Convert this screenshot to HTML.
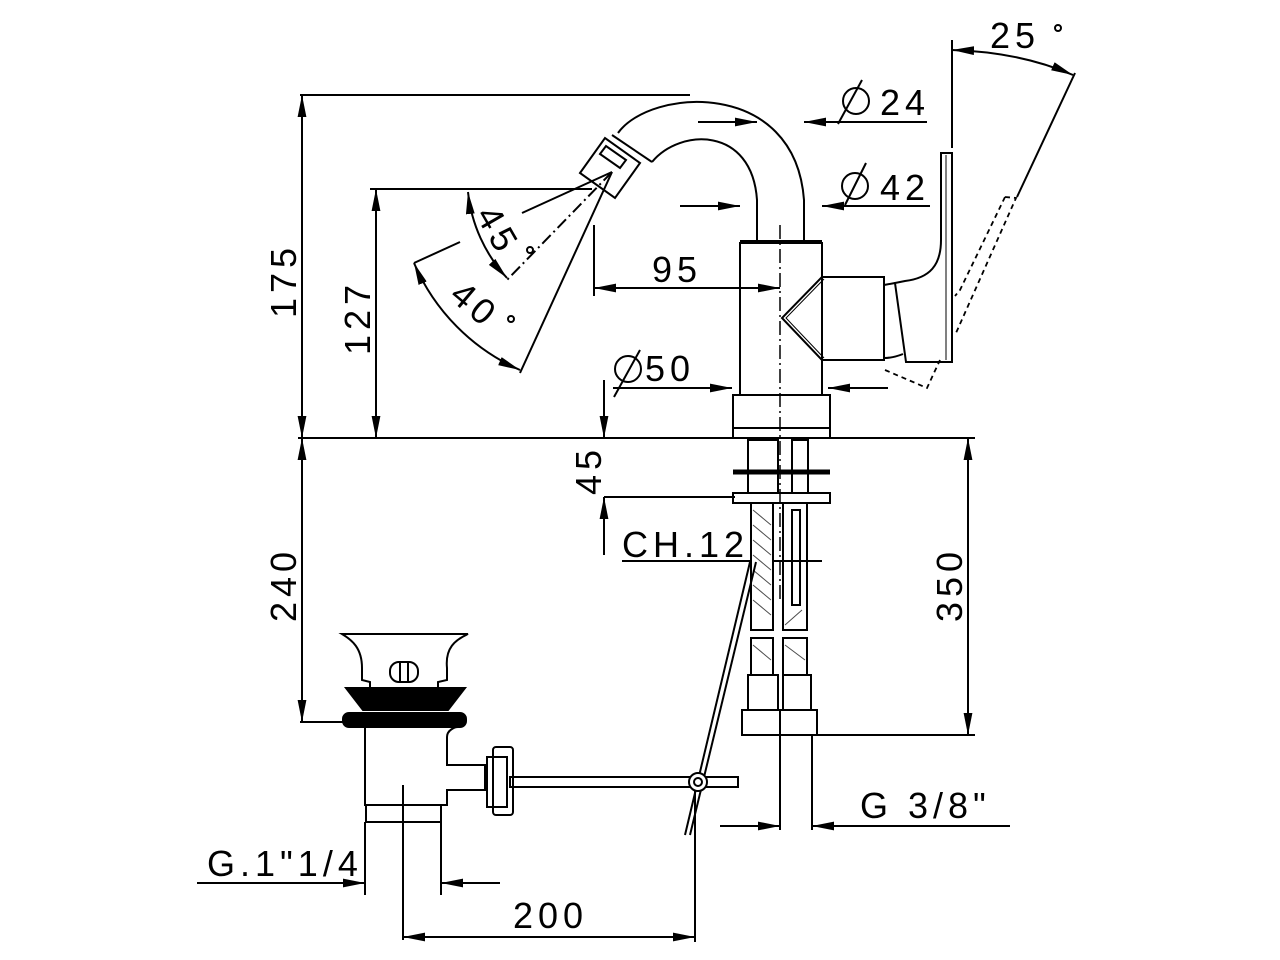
<!DOCTYPE html>
<html><head><meta charset="utf-8"><style>
html,body{margin:0;padding:0;background:#fff;}
svg{display:block;}
text{font-family:"Liberation Sans",sans-serif;font-size:36px;letter-spacing:5px;fill:#000;}
</style></head><body>
<svg width="1280" height="960" viewBox="0 0 1280 960" xmlns="http://www.w3.org/2000/svg">
<defs>
<marker id="a" viewBox="0 0 20 8" refX="20" refY="4" markerWidth="22" markerHeight="9" markerUnits="userSpaceOnUse" orient="auto-start-reverse"><path d="M0,0 L20,4 L0,8z" fill="#000"/></marker>
</defs>
<g stroke="#000" stroke-width="2" fill="none">
<line x1="300" y1="95" x2="690" y2="95"/>
<line x1="298" y1="438" x2="975" y2="438"/>
<line x1="370" y1="189" x2="592" y2="189"/>
<line x1="302" y1="95" x2="302" y2="438" marker-start="url(#a)" marker-end="url(#a)"/>
<line x1="376" y1="189" x2="376" y2="438" marker-start="url(#a)" marker-end="url(#a)"/>
<line x1="302" y1="438" x2="302" y2="722" marker-start="url(#a)" marker-end="url(#a)"/>
<line x1="300" y1="722" x2="345" y2="722"/>
<line x1="968" y1="438" x2="968" y2="735" marker-start="url(#a)" marker-end="url(#a)"/>
<line x1="815" y1="735" x2="975" y2="735"/>
<line x1="604" y1="380" x2="604" y2="438" marker-end="url(#a)"/>
<line x1="604" y1="555" x2="604" y2="497" marker-end="url(#a)"/>
<line x1="604" y1="497" x2="735" y2="497"/>
<line x1="622" y1="561" x2="822" y2="561"/>
<line x1="613" y1="388" x2="732" y2="388" marker-end="url(#a)"/>
<line x1="888" y1="388" x2="828" y2="388" marker-end="url(#a)"/>
<line x1="614" y1="397" x2="640" y2="350"/>
<line x1="680" y1="206" x2="740" y2="206" marker-end="url(#a)"/>
<line x1="930" y1="206" x2="822" y2="206" marker-end="url(#a)"/>
<line x1="845" y1="205" x2="866" y2="163"/>
<line x1="698" y1="122" x2="757" y2="122" marker-end="url(#a)"/>
<line x1="927" y1="122" x2="804" y2="122" marker-end="url(#a)"/>
<line x1="838" y1="124" x2="862" y2="80"/>
<line x1="594" y1="225" x2="594" y2="296"/>
<line x1="594" y1="288" x2="780" y2="288" marker-start="url(#a)" marker-end="url(#a)"/>
<path d="M618,133 C650,88 795,78 804,200 L804,242"/>
<path d="M652,162 C680,128 752,126 757,200 L757,242"/>
<polygon points="580,173 605,138 640,163 615,198"/>
<polygon points="600,154 606,146 626,160 620,168"/>
<line x1="612" y1="135" x2="652" y2="162"/>
<line x1="612" y1="172" x2="520" y2="373"/>
<line x1="612" y1="172" x2="522" y2="213"/>
<line x1="612" y1="172" x2="505" y2="282" stroke-dasharray="12,4,2,4"/>
<line x1="414" y1="263" x2="460" y2="242"/>
<path d="M468,192 A150,150 0 0 0 507,278" marker-start="url(#a)" marker-end="url(#a)"/>
<path d="M414,263 A205,205 0 0 0 520,370" marker-start="url(#a)" marker-end="url(#a)"/>
<circle cx="530" cy="250" r="3"/>
<circle cx="511" cy="319" r="3"/>
<line x1="740" y1="242" x2="822" y2="242" stroke-width="4"/>
<polyline points="740,242 740,395"/>
<polyline points="822,242 822,277 782,318 822,360 822,395"/>
<polyline points="824,279 786,318 824,358" stroke-width="1"/>
<rect x="822" y="277" width="62" height="83"/>
<path d="M884,285 L895,283 M884,358 C892,358 898,356 903,354"/>
<path d="M895,283 L905,281 C930,278 941,265 941,240 L941,153 L952,153 L952,362 L906,362 Z"/>
<line x1="946" y1="155" x2="946" y2="360" stroke-width="1"/>
<rect x="733" y="395" width="97" height="43"/>
<line x1="733" y1="428" x2="830" y2="428"/>
<line x1="780" y1="225" x2="780" y2="600" stroke-dasharray="14,4,2,4" stroke-width="1.5"/>
<line x1="952" y1="40" x2="952" y2="148"/>
<line x1="1075" y1="73" x2="1017" y2="197"/>
<path d="M952,50 Q1020,52 1073,75" marker-start="url(#a)" marker-end="url(#a)"/>
<g stroke-dasharray="5,4" stroke-width="1.8">
<polyline points="1005,197 1016,198 956,333"/>
<polyline points="1005,197 960,290 955,296"/>
<polyline points="885,370 927,388 940,360"/>
</g>
<rect x="748" y="440" width="30" height="53"/>
<rect x="792" y="440" width="16" height="53"/>
<line x1="733" y1="472" x2="830" y2="472" stroke-width="5"/>
<rect x="733" y="493" width="97" height="10"/>
<rect x="751" y="503" width="22" height="127" fill="#fff"/>
<rect x="783" y="503" width="24" height="127"/>
<rect x="792" y="510" width="8" height="95"/>
<rect x="751" y="638" width="22" height="37"/>
<rect x="783" y="638" width="24" height="37"/>
<rect x="748" y="675" width="30" height="35"/>
<rect x="783" y="675" width="28" height="35"/>
<rect x="742" y="710" width="38" height="25"/>
<rect x="780" y="710" width="37" height="25"/>
<line x1="780" y1="735" x2="780" y2="830"/>
<line x1="812" y1="735" x2="812" y2="830"/>
<line x1="720" y1="826" x2="780" y2="826" marker-end="url(#a)"/>
<line x1="1010" y1="826" x2="812" y2="826" marker-end="url(#a)"/>
<line x1="750" y1="562" x2="685" y2="835"/>
<line x1="756" y1="562" x2="690" y2="835"/>
<rect x="510" y="777" width="228" height="10" fill="#fff"/>
<circle cx="698" cy="782" r="9" fill="#fff"/>
<circle cx="698" cy="782" r="4"/>
<path d="M342,634 L468,634 C455,640 445,648 447,668 L447,680 L438,682 L438,688 L370,688 L370,682 L362,680 L362,668 C362,648 352,640 342,634z"/>
<rect x="390" y="662" width="28" height="20" rx="9"/>
<line x1="400" y1="662" x2="400" y2="682"/><line x1="408" y1="662" x2="408" y2="682"/>
<polygon points="346,688 465,688 448,710 363,710" fill="#000"/>
<rect x="343" y="713" width="123" height="14" rx="6" fill="#000"/>
<path d="M365,727 L365,805 L447,805 L447,790 L485,790 L485,765 L447,765 L447,737 C447,730 455,727 458,727"/>
<rect x="366" y="805" width="75" height="17"/>
<rect x="487" y="757" width="20" height="50"/>
<rect x="493" y="747" width="20" height="68" rx="3"/>
<line x1="403" y1="785" x2="403" y2="940"/>
<line x1="441" y1="822" x2="441" y2="895"/>
<line x1="365" y1="822" x2="365" y2="895"/>
<line x1="197" y1="883" x2="365" y2="883" marker-end="url(#a)"/>
<line x1="500" y1="883" x2="441" y2="883" marker-end="url(#a)"/>
<line x1="695" y1="790" x2="695" y2="942"/>
<line x1="403" y1="937" x2="695" y2="937" marker-start="url(#a)" marker-end="url(#a)"/>
</g>
<g stroke="#000" stroke-width="1" opacity="0.7">
<path d="M753,510 L771,525 M753,525 L771,540 M753,540 L771,555 M753,555 L771,570 M753,570 L771,585 M753,585 L771,600 M753,600 L771,615 M753,645 L771,660 M785,645 L805,660 M802,610 L785,625"/>
</g>
<g fill="#000">
<text x="880" y="115">24</text>
<text x="880" y="200">42</text>
<text x="652" y="282">95</text>
<text x="645" y="381">50</text>
<text x="622" y="557">CH.12</text>
<text x="860" y="818">G 3/8"</text>
<text x="207" y="876">G.1"1/4</text>
<text x="513" y="928">200</text>
<text x="990" y="48">25</text>
<text transform="translate(296,318) rotate(-90)">175</text>
<text transform="translate(370,355) rotate(-90)">127</text>
<text transform="translate(296,622) rotate(-90)">240</text>
<text transform="translate(962,622) rotate(-90)">350</text>
<text transform="translate(601,495) rotate(-90)">45</text>
<text transform="translate(475,215) rotate(60)">45</text>
<text transform="translate(448,298) rotate(40)">40</text>
</g>
<g fill="none" stroke="#000" stroke-width="2">
<circle cx="856" cy="101" r="13"/>
<circle cx="855" cy="186" r="13"/>
<circle cx="628" cy="369" r="13"/>
<circle cx="1058" cy="28" r="3"/>
</g>
</svg>
</body></html>
